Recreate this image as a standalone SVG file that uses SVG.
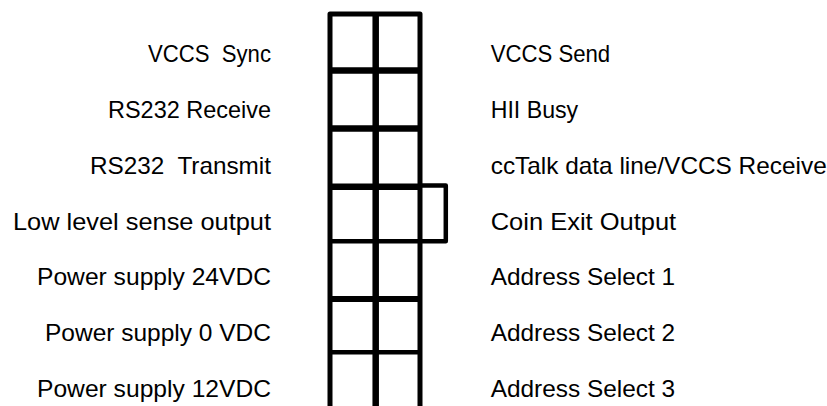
<svg xmlns="http://www.w3.org/2000/svg" width="827" height="406" viewBox="0 0 827 406">
<style>
  .lbl { font-family: "Liberation Sans", Arial, sans-serif; font-size: 24px; fill: #000; }
  .l { text-anchor: end; }
  .r { text-anchor: start; }
  .ln { stroke: #000; fill: none; stroke-linejoin: round; stroke-linecap: butt; }
</style>
<rect width="827" height="406" fill="#fff"/>
<g id="connector-block">
  <path class="ln" d="M330,406 V14 H420 V406" stroke-width="5"/>
  <line class="ln" x1="375.7" y1="14" x2="375.7" y2="406" stroke-width="6.5"/>
  <line class="ln" x1="330" y1="70.5" x2="420" y2="70.5" stroke-width="6.5"/>
  <line class="ln" x1="330" y1="128.5" x2="420" y2="128.5" stroke-width="6.5"/>
  <line class="ln" x1="330" y1="186.8" x2="420" y2="186.8" stroke-width="6.5"/>
  <line class="ln" x1="330" y1="241.2" x2="420" y2="241.2" stroke-width="4.5"/>
  <line class="ln" x1="330" y1="299" x2="420" y2="299" stroke-width="6"/>
  <line class="ln" x1="330" y1="352.2" x2="420" y2="352.2" stroke-width="4.5"/>
  <path id="key" class="ln" d="M420,185.5 H445.8 V241.2 H420" stroke-width="4.5"/>
</g>
<g id="left-labels">
  <g id="pin-l1"><text class="lbl l" x="271" y="62" xml:space="preserve" textLength="123" lengthAdjust="spacingAndGlyphs">VCCS  Sync</text></g>
  <g id="pin-l2"><text class="lbl l" x="271" y="117.8" textLength="163" lengthAdjust="spacingAndGlyphs">RS232 Receive</text></g>
  <g id="pin-l3"><text class="lbl l" x="271" y="173.6" xml:space="preserve" textLength="181" lengthAdjust="spacingAndGlyphs">RS232  Transmit</text></g>
  <g id="pin-l4"><text class="lbl l" x="271" y="229.6" textLength="258" lengthAdjust="spacingAndGlyphs">Low level sense output</text></g>
  <g id="pin-l5"><text class="lbl l" x="271" y="285.4" textLength="234" lengthAdjust="spacingAndGlyphs">Power supply 24VDC</text></g>
  <g id="pin-l6"><text class="lbl l" x="271" y="341.2" textLength="226" lengthAdjust="spacingAndGlyphs">Power supply 0 VDC</text></g>
  <g id="pin-l7"><text class="lbl l" x="271" y="396.8" textLength="234" lengthAdjust="spacingAndGlyphs">Power supply 12VDC</text></g>
</g>
<g id="right-labels">
  <g id="pin-r1"><text class="lbl r" x="490.7" y="62" textLength="119.5" lengthAdjust="spacingAndGlyphs">VCCS Send</text></g>
  <g id="pin-r2"><text class="lbl r" x="490.7" y="117.8" textLength="87.5" lengthAdjust="spacingAndGlyphs">HII Busy</text></g>
  <g id="pin-r3"><text class="lbl r" x="490.7" y="173.6" textLength="336" lengthAdjust="spacingAndGlyphs">ccTalk data line/VCCS Receive</text></g>
  <g id="pin-r4"><text class="lbl r" x="490.7" y="229.6" textLength="185.5" lengthAdjust="spacingAndGlyphs">Coin Exit Output</text></g>
  <g id="pin-r5"><text class="lbl r" x="490.7" y="285.4" textLength="184.5" lengthAdjust="spacingAndGlyphs">Address Select 1</text></g>
  <g id="pin-r6"><text class="lbl r" x="490.7" y="341.2" textLength="184.5" lengthAdjust="spacingAndGlyphs">Address Select 2</text></g>
  <g id="pin-r7"><text class="lbl r" x="490.7" y="396.8" textLength="184.5" lengthAdjust="spacingAndGlyphs">Address Select 3</text></g>
</g>
</svg>
